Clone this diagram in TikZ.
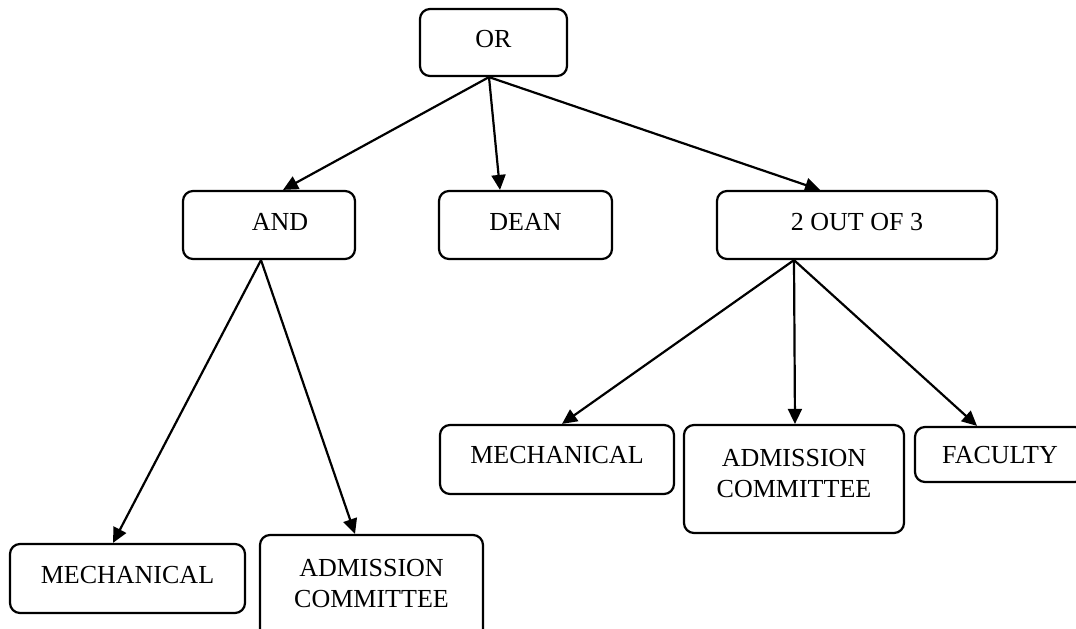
\documentclass[tikz,border=0pt]{standalone}
\usepackage{fontspec}
\setmainfont{Liberation Serif}
\usetikzlibrary{arrows.meta, positioning}

\begin{document}
\begin{tikzpicture}[
    ->,
    >={Triangle[length=15pt,width=14pt]},
    x=1pt, y=-1pt,
    line width=2.2pt,
    on grid,
    box/.style={draw, rounded corners=10pt, inner sep=0pt,
        font=\fontsize{26}{31}\selectfont, text height=10pt, text depth=0pt},
    twoline/.style={box, align=center, text height=36pt},
]
    \useasboundingbox (0,0) rectangle (1076,629);

    \node[box, minimum width=147pt, minimum height=67pt] (or) at (493.5,42.5) {OR};

    \node[box, minimum width=172pt, minimum height=68pt,
          below left =182.5pt and 224.5pt of or] (and)  {\hspace*{22pt}AND};
    \node[box, minimum width=173pt, minimum height=68pt,
          below right=182.5pt and 32pt of or]    (dean) {DEAN};
    \node[box, minimum width=280pt, minimum height=68pt,
          below right=182.5pt and 363.5pt of or] (two)  {2 OUT OF 3};

    % under AND
    \node[box, minimum width=235pt, minimum height=69pt,
          below left =353.5pt and 141.5pt of and] (mechA) {MECHANICAL};
    \node[twoline, minimum width=223pt, minimum height=108pt,
          below right=364pt and 102.5pt of and]   (admA)  {ADMISSION\\COMMITTEE};

    % under 2 OUT OF 3
    \node[box, minimum width=234pt, minimum height=69pt, text height=8pt,
          below left =234.5pt and 300pt of two]  (mechB) {MECHANICAL};
    \node[twoline, minimum width=220pt, minimum height=108pt,
          below left =254pt and 63pt of two]     (admB)  {ADMISSION\\COMMITTEE};
    \node[box, minimum width=170pt, minimum height=55pt, text height=17pt,
          below right=229.5pt and 143pt of two]  (fac)   {FACULTY};

    \path
        ([xshift=-4.5pt]or.south) edge ([xshift=14pt]and.north)
        ([xshift=-4.5pt]or.south) edge ([xshift=-25.5pt]dean.north)
        ([xshift=-4.5pt]or.south) edge ([xshift=-37pt]two.north)
        ([xshift=-8pt]and.south)  edge ([xshift=-14.5pt]mechA.north)
        ([xshift=-8pt]and.south)  edge ([xshift=-16.5pt]admA.north)
        ([xshift=-63pt]two.south) edge ([xshift=5pt]mechB.north)
        ([xshift=-63pt]two.south) edge ([xshift=1pt]admB.north)
        ([xshift=-63pt]two.south) edge ([xshift=-23pt]fac.north)
    ;
\end{tikzpicture}
\end{document}
